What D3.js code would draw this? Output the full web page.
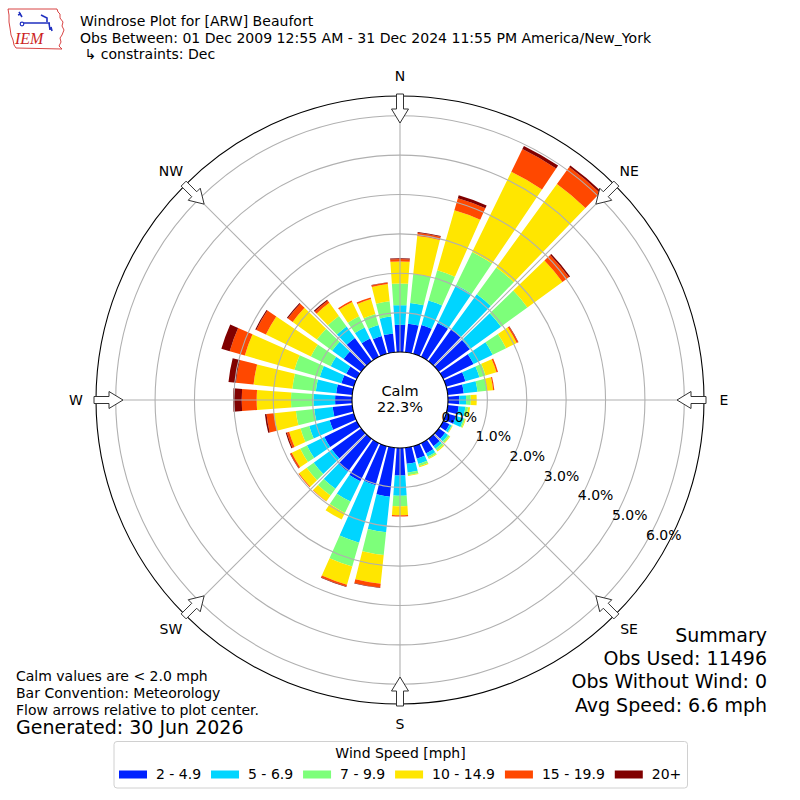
<!DOCTYPE html>
<html>
<head>
<meta charset="utf-8">
<script src="https://cdn.jsdelivr.net/npm/d3@7/dist/d3.min.js"></script>
<style>
  html, body { margin: 0; padding: 0; background: #fff; }
  svg { display: block; font-family: "DejaVu Sans", sans-serif; }
</style>
</head>
<body>
<svg id="chart" width="800" height="800"></svg>
<script>
// ---------------- DATA ----------------
const directions = [0,10,20,30,40,50,60,70,80,90,100,110,120,130,140,150,160,170,
                    180,190,200,210,220,230,240,250,260,270,280,290,300,310,320,330,340,350];
const speedBins = ["2 - 4.9", "5 - 6.9", "7 - 9.9", "10 - 14.9", "15 - 19.9", "20+"];
const speedColors = ["#0022ff", "#00d5ff", "#7dff7a", "#ffe600", "#ff4800", "#800000"];
// percent frequency per direction for each speed bin
const bin2to5   = [0.69,0.73,0.76,0.96,1.00,0.97,0.86,0.51,0.41,0.29,0.28,0.26,0.18,0.20,0.23,0.29,0.33,0.41,
                   0.70,1.25,1.03,1.08,1.03,0.92,0.92,0.64,0.50,0.43,0.41,0.33,0.30,0.55,0.73,0.52,0.47,0.48];
const bin5to7   = [0.50,0.53,0.65,1.07,1.10,0.98,0.54,0.37,0.35,0.17,0.17,0.20,0.06,0.09,0.08,0.09,0.14,0.22,
                   0.51,0.91,1.52,0.57,0.54,0.57,0.49,0.54,0.47,0.55,0.52,0.57,0.44,0.36,0.36,0.31,0.29,0.43];
const bin7to10  = [0.55,0.74,0.80,0.93,0.84,0.83,0.38,0.16,0.24,0.12,0.07,0.04,0.02,0.05,0.06,0.05,0.06,0.07,
                   0.27,0.58,0.63,0.32,0.21,0.22,0.19,0.23,0.47,0.57,0.60,0.67,0.56,0.48,0.33,0.32,0.29,0.39];
const bin10to15 = [0.56,0.97,1.58,2.27,2.62,1.10,0.30,0.29,0.16,0.15,0.05,0.02,0.01,0.02,0.03,0.02,0.03,0.02,
                   0.23,0.73,0.48,0.19,0.18,0.24,0.24,0.30,0.56,0.87,0.99,1.31,1.27,0.76,0.41,0.40,0.40,0.44];
const bin15to20 = [0.06,0.08,0.32,0.64,0.53,0.20,0.04,0.04,0.03,0.00,0.00,0.00,0.00,0.00,0.00,0.00,0.00,0.00,
                   0.03,0.10,0.05,0.00,0.01,0.02,0.04,0.06,0.19,0.38,0.45,0.40,0.27,0.15,0.07,0.04,0.04,0.04];
const bin20plus = [0.02,0.02,0.08,0.09,0.05,0.04,0.01,0.00,0.00,0.00,0.00,0.00,0.00,0.00,0.00,0.00,0.00,0.00,
                   0.00,0.01,0.01,0.00,0.00,0.00,0.01,0.03,0.04,0.22,0.19,0.22,0.03,0.03,0.03,0.00,0.00,0.01];
const ringTicks = [0, 1, 2, 3, 4, 5, 6];
const compassLabels = ["N", "NE", "E", "SE", "S", "SW", "W", "NW"];
const compassAngles = [0, 45, 90, 135, 180, 225, 270, 315];
const calmPct = 22.3;
const titleLines = ["Windrose Plot for [ARW] Beaufort",
                    "Obs Between: 01 Dec 2009 12:55 AM - 31 Dec 2024 11:55 PM America/New_York",
                    "\u21b3 constraints: Dec"];
const noteLines = ["Calm values are < 2.0 mph", "Bar Convention: Meteorology", "Flow arrows relative to plot center."];
const generatedText = "Generated: 30 Jun 2026";
const summaryLines = ["Summary", "Obs Used: 11496", "Obs Without Wind: 0", "Avg Speed: 6.6 mph"];
const legendTitle = "Wind Speed [mph]";

// ---------------- BUILD ----------------
const seriesArrays = [bin2to5, bin5to7, bin7to10, bin10to15, bin15to20, bin20plus];
const table = directions.map((d, i) => {
  const row = { dir: d };
  speedBins.forEach((k, j) => { row[k] = seriesArrays[j][i]; });
  return row;
});
const stacked = d3.stack().keys(speedBins)(table);

const svg = d3.select("#chart");
const cx = 400, cy = 400;
const rScale = d3.scaleLinear().domain([0, 6.5]).range([48, 304]);
const rad = Math.PI / 180;
const halfWidth = 4 * rad;   // bars span 80% of the 10 degree bin

const plot = svg.append("g").attr("transform", `translate(${cx},${cy})`);

// bars
const arc = d3.arc();
stacked.forEach((layer, j) => {
  plot.append("g").selectAll("path")
    .data(layer)
    .join("path")
    .attr("d", d => arc({
      innerRadius: rScale(d[0]),
      outerRadius: rScale(d[1]),
      startAngle: d.data.dir * rad - halfWidth,
      endAngle: d.data.dir * rad + halfWidth
    }))
    .attr("fill", speedColors[j]);
});

// grid rings (drawn above bars)
plot.append("g").selectAll("circle")
  .data(ringTicks.filter(t => t > 0))
  .join("circle")
  .attr("r", d => rScale(d))
  .attr("fill", "none")
  .attr("stroke", "#b0b0b0")
  .attr("stroke-width", 1.1);

// spokes
plot.append("g").selectAll("line")
  .data(compassAngles)
  .join("line")
  .attr("x1", 0).attr("y1", 0)
  .attr("x2", d => rScale(6.5) * Math.sin(d * rad))
  .attr("y2", d => -rScale(6.5) * Math.cos(d * rad))
  .attr("stroke", "#b0b0b0")
  .attr("stroke-width", 1.1);

// outer circle
plot.append("circle").attr("r", rScale(6.5)).attr("fill", "none")
  .attr("stroke", "#000").attr("stroke-width", 1.1);

// calm circle
plot.append("circle").attr("r", rScale(0)).attr("fill", "#fff")
  .attr("stroke", "#000").attr("stroke-width", 1.1);
plot.append("text").attr("x", 0).attr("y", -4).attr("text-anchor", "middle")
  .attr("font-size", 14.5).text("Calm");
plot.append("text").attr("x", 0).attr("y", 12).attr("text-anchor", "middle")
  .attr("font-size", 14.5).text(calmPct.toFixed(1) + "%");

// radial tick labels along 120 degrees
const labAng = 120 * rad;
plot.append("g").selectAll("text")
  .data(ringTicks)
  .join("text")
  .attr("x", d => rScale(d) * Math.sin(labAng) + 17.6)
  .attr("y", d => -rScale(d) * Math.cos(labAng) - 7.7 + 5.3)
  .attr("text-anchor", "middle")
  .attr("font-size", 14)
  .text(d => d.toFixed(1) + "%");

// flow arrows
const arrowPts = [[306,-3.5],[291,-3.5],[291,-8.5],[277,0],[291,8.5],[291,3.5],[306,3.5]];
plot.append("g").selectAll("path")
  .data(compassAngles)
  .join("path")
  .attr("d", a => {
    const s = Math.sin(a * rad), c = Math.cos(a * rad);
    return "M" + arrowPts.map(([r, w]) => [r * s + w * c, -r * c + w * s].map(v => v.toFixed(2)).join(",")).join("L") + "Z";
  })
  .attr("fill", "#fff")
  .attr("stroke", "#333")
  .attr("stroke-width", 1);

// compass labels
plot.append("g").selectAll("text")
  .data(compassLabels)
  .join("text")
  .attr("x", (d, i) => 324 * Math.sin(compassAngles[i] * rad))
  .attr("y", (d, i) => -324 * Math.cos(compassAngles[i] * rad) + 5)
  .attr("text-anchor", "middle")
  .attr("font-size", 14)
  .text(d => d);

// ---------------- TEXT ----------------
const titleX = [80, 80, 84.5];
const titleY = [26, 42.5, 58.5];
titleLines.forEach((t, i) => {
  svg.append("text").attr("x", titleX[i]).attr("y", titleY[i]).attr("font-size", 14.05).text(t);
});

noteLines.forEach((t, i) => {
  svg.append("text").attr("x", 16).attr("y", 681 + i * 17).attr("font-size", 14).text(t);
});
svg.append("text").attr("x", 16).attr("y", 734.3).attr("font-size", 19).text(generatedText);

summaryLines.forEach((t, i) => {
  svg.append("text").attr("x", 767).attr("y", 641.7 + i * 23.3)
    .attr("text-anchor", "end").attr("font-size", 19).text(t);
});

// ---------------- LEGEND ----------------
const leg = svg.append("g");
leg.append("rect").attr("x", 114).attr("y", 741.5).attr("width", 573.5).attr("height", 46.5)
  .attr("rx", 3).attr("fill", "#fff").attr("stroke", "#d0d0d0").attr("stroke-width", 1);
leg.append("text").attr("x", 400.5).attr("y", 757.7).attr("text-anchor", "middle")
  .attr("font-size", 14).text(legendTitle);
let lx = 119;
speedBins.forEach((lab, i) => {
  leg.append("rect").attr("x", lx).attr("y", 770.5).attr("width", 28).attr("height", 8)
    .attr("fill", speedColors[i]);
  const t = leg.append("text").attr("x", lx + 37).attr("y", 779.3).attr("font-size", 14).text(lab);
  const w = t.node().getComputedTextLength();
  lx = lx + 37 + w + 9.9;
});

// ---------------- LOGO ----------------
const logo = svg.append("g");
logo.append("path")
  .attr("d", "M8,9 L57,9 L58,12 L60,14 L60,18 L63,22 L62,26 L64,30 L62,35 L60,38 L61,42 L59,46 L62,49 L16,48 L14,45 L13,40 L11,35 L10,28 L9,22 L9,15 Z")
  .attr("fill", "none").attr("stroke", "#d43030").attr("stroke-width", 0.9);
logo.append("path")
  .attr("d", "M19,12 L22,17 M18,15 L21,14 M24,23 L50,23 M41,15 L47,18 L47,22 M49,23 L50,30 M51,27 L52,31")
  .attr("fill", "none").attr("stroke", "#2030c0").attr("stroke-width", 1.6);
logo.append("circle").attr("cx", 22).attr("cy", 24).attr("r", 1.8).attr("fill", "none")
  .attr("stroke", "#2030c0").attr("stroke-width", 1.2);
logo.append("text").attr("x", 15).attr("y", 43.5)
  .attr("font-family", "Liberation Serif, serif").attr("font-style", "italic")
  .attr("font-size", 16).attr("fill", "#cc2222").text("IEM");
</script>
</body>
</html>
